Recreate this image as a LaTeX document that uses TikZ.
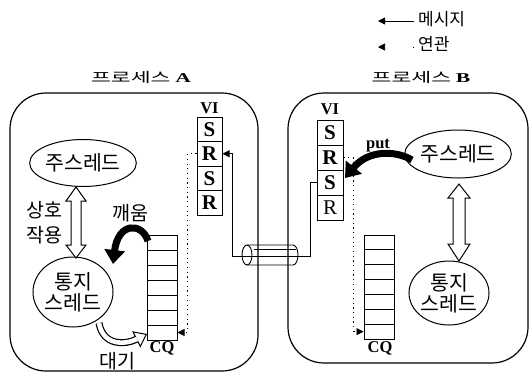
\documentclass[tikz,border=0pt]{standalone}
\usepackage{fontspec}
\setmainfont{Liberation Serif}
\newfontfamily\kr{Noto Sans CJK KR}
\usetikzlibrary{shapes.geometric,arrows.meta}

\begin{document}
\begin{tikzpicture}[x=1pt,y=-1pt,
  procbox/.style={draw,line width=1.2pt,rounded corners=36pt,inner sep=0pt},
  title/.style={font=\kr\fontsize{13.5}{15}\selectfont,inner sep=0pt},
  thread/.style={draw,ellipse,line width=1pt,inner sep=0pt,align=center,
    font=\kr\fontsize{20.5}{21}\selectfont},
  krtext/.style={font=\kr\fontsize{19.5}{21}\selectfont,inner sep=0pt},
  legtext/.style={font=\kr\fontsize{17}{19}\selectfont,inner sep=0pt},
  cell/.style={draw,line width=1pt,fill=white,minimum width=25pt,minimum height=24.5pt,
    inner sep=0pt,font=\bfseries\fontsize{21}{21}\selectfont},
  qcell/.style={draw,line width=1pt,fill=white,minimum width=30pt,minimum height=15pt,inner sep=0pt},
  latin/.style={font=\bfseries\fontsize{16.5}{17}\selectfont,inner sep=0pt},
  msg/.style={line width=0.8pt,-{Triangle[length=7pt,width=7pt]}},
  assoc/.style={line width=0.7pt,dash pattern=on 1.2pt off 3.5pt,-{Triangle[length=7pt,width=7pt]}},
  bold arrow/.style={line width=7pt,-{Triangle[length=14pt,width=20pt]}},
  hollow/.style={draw,line width=1pt,fill=white,line join=miter}
]
\useasboundingbox (0,0) rectangle (530,376);

% legend
\coordinate (l1s) at (414,21);
\coordinate (l1e) at (378,21);
\coordinate (l2s) at (414,47);
\coordinate (l2e) at (378,47);
\draw[msg] (l1s) -- (l1e);
\draw[line width=0.7pt,dash pattern=on 1.2pt off 30pt,-{Triangle[length=7pt,width=7pt]}] (l2s) -- (l2e);
\node[legtext,anchor=west] (lmsg) at (418,19) {메시지};
\node[legtext,anchor=west] (lrel) at (418,44) {연관};

% process titles
\node[title] (ta) at (141,77) {\scalebox{1.6}[1]{프로세스 {\rmfamily\bfseries A}}};
\node[title] (tb) at (421,77) {\scalebox{1.6}[1]{프로세스 {\rmfamily\bfseries B}}};

% process boundaries
\node[procbox,minimum width=248pt,minimum height=278pt] (pa) at (134,232) {};
\node[procbox,minimum width=240pt,minimum height=270pt] (pb) at (408,228) {};

% channel between the two processes
\draw[line width=0.9pt] (247,245) -- (293,245) arc[start angle=-90,end angle=90,x radius=5pt,y radius=-10pt]
  -- (247,265);
\draw[line width=0.9pt] (247,255) ellipse[x radius=5pt,y radius=10pt];
\draw[line width=0.8pt] (254,249) -- (296,249);

% VI of process A
\node[latin] (via) at (209.5,108) {VI};
\node[cell] (as0) at (209.5,129.25) {S};
\node[cell] (ar1) at (209.5,153.75) {R};
\node[cell] (as2) at (209.5,178.25) {S};
\node[cell] (ar3) at (209.5,202.75) {R};

% VI of process B
\node[latin] (vib) at (330,109) {VI};
\node[cell,minimum width=26pt,minimum height=25pt] (bs0) at (330,132.5) {S};
\node[cell,minimum width=26pt,minimum height=25pt] (br1) at (330,157.5) {R};
\node[cell,minimum width=26pt,minimum height=25pt] (bs2) at (330,182.5) {S};
\node[cell,minimum width=26pt,minimum height=25pt] (br3) at (330,207.5) {\mdseries R};

% completion queues
\foreach \k in {0,...,6} {
  \node[qcell] (qa\k) at (162,{242.5+15*\k}) {};
  \node[qcell] (qb\k) at (379,{242.5+14.85*\k}) {};
}
\node[latin] (cqa) at (162,348) {CQ};
\node[latin] (cqb) at (380,348) {CQ};

% message path: VI B send -> channel -> VI A receive
\coordinate (tr) at (310,256);
\coordinate (tl) at (232,256);
\draw[msg] (bs2.west) -| (tr) -- (tl) |- (ar1.east);

% VI receive slots associated with completion queues
\draw[assoc] (ar1.west) -- ++(-9,0) |- (qa6.east);
\draw[assoc] (br1.east) -- ++(10,0) |- (qb6.west);

% threads
\node[thread,minimum width=98pt,minimum height=47pt] (ama) at (83,163) {주스레드};
\node[thread,minimum width=80pt,minimum height=70pt] (ana) at (73,292) {통지\\스레드};
\node[thread,minimum width=98pt,minimum height=48pt] (bma) at (458,154) {주스레드};
\node[thread,minimum width=72pt,minimum height=64pt] (bna) at (449,293) {통지\\스레드};

% interaction between main and notification threads
\draw[hollow] (76,187) -- (86,201) -- (81,201) -- (81,245) -- (86,245) -- (76,258)
  -- (66,245) -- (71,245) -- (71,201) -- (66,201) -- cycle;
\draw[hollow] (459,184) -- (470,198) -- (465,198) -- (465,244) -- (470,244) -- (459,261)
  -- (448,244) -- (453,244) -- (453,198) -- (448,198) -- cycle;
\node[krtext] (ia1) at (44,210) {상호};
\node[krtext] (ia2) at (44,235) {작용};

% wake-up: completion queue -> notification thread
\coordinate (wk0) at (148,241);
\coordinate (wk1) at (113,264);
\draw[bold arrow] (wk0) .. controls (142,222) and (118,222) .. (wk1);
\node[krtext] (wake) at (130,213) {깨움};

% put: main thread of B -> VI B
\coordinate (pt0) at (412,160);
\coordinate (pt1) at (345,178);
\draw[bold arrow] (pt0) .. controls (395,150) and (368,150) .. (pt1);
\node[latin] (put) at (378,146) {put};

% wait: notification thread waits on completion queue
\coordinate (wt0) at (99,323);
\coordinate (wt1) at (147,334);
\draw[line width=7pt,-{Triangle[length=12pt,width=18pt,line width=1pt,fill=white]}]
  (wt0) .. controls (103,346) and (125,345) .. (wt1);
\draw[line width=4.6pt,white,shorten >=11pt]
  (wt0) .. controls (103,346) and (125,345) .. (wt1);
\node[krtext] (wait) at (117,361) {대기};
\end{tikzpicture}
\end{document}
